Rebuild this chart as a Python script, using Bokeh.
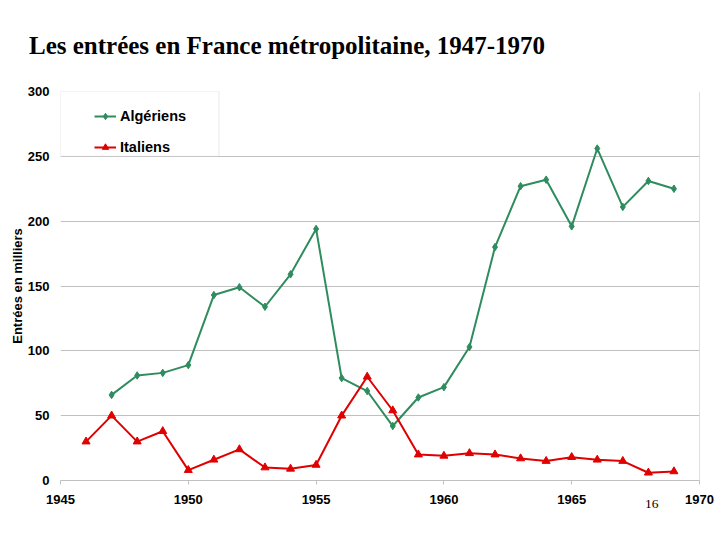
from bokeh.plotting import figure
from bokeh.models import (ColumnDataSource, Legend, LegendItem, Span, Title,
                          BoxAnnotation, FixedTicker)
from bokeh.embed import file_html
from bokeh.resources import INLINE

# ---- data (milliers d'entrées) ----
years_alg = [1947, 1948, 1949, 1950, 1951, 1952, 1953, 1954, 1955, 1956, 1957,
             1958, 1959, 1960, 1961, 1962, 1963, 1964, 1965, 1966, 1967, 1968, 1969]
algeriens = [66, 81, 83, 89, 143, 149, 134, 159, 194, 79, 69,
             42, 64, 72, 103, 180, 227, 232, 196, 256, 211, 231, 225]

years_ita = [1946, 1947, 1948, 1949, 1950, 1951, 1952, 1953, 1954, 1955, 1956,
             1957, 1958, 1959, 1960, 1961, 1962, 1963, 1964, 1965, 1966, 1967, 1968, 1969]
italiens = [30, 50, 30, 38, 8, 16, 24, 10, 9, 12, 50,
            80, 54, 20, 19, 21, 20, 17, 15, 18, 16, 15, 6, 7]

x_ticks = [1945, 1950, 1955, 1960, 1965, 1970]
y_ticks = [0, 50, 100, 150, 200, 250, 300]
y_grid = [50, 100, 150, 200, 250]

title_text = "Les entrées en France métropolitaine, 1947-1970"
y_label = "Entrées en milliers"
page_no = "16"

GREEN = "#2f8c5e"
RED = "#e00000"
GRID = "#c0c0c0"

p = figure(width=720, height=540, output_backend="svg", toolbar_location=None,
           x_range=(1945, 1970), y_range=(0, 300),
           min_border_left=60, min_border_right=21, min_border_top=91,
           min_border_bottom=60)
p.outline_line_color = None
p.background_fill_color = "white"

# title
p.title.text = title_text
p.title.text_font = "Liberation Serif"
p.title.text_font_style = "bold"
p.title.text_font_size = "25px"
p.title.text_color = "black"
p.title.align = "left"
p.title.vertical_align = "top"
p.title.offset = -31.5
p.title.standoff = 61

# axes
p.xaxis.ticker = FixedTicker(ticks=x_ticks)
p.yaxis.ticker = FixedTicker(ticks=y_ticks)
p.xaxis.minor_tick_line_color = None
p.yaxis.minor_tick_line_color = None
p.xaxis.axis_line_color = GRID
p.xaxis.major_tick_line_color = GRID
p.xaxis.major_tick_out = 4
p.xaxis.major_tick_in = 0
p.xaxis.minor_tick_out = 0
p.xaxis.minor_tick_in = 0
p.xaxis.major_label_standoff = 10
p.yaxis.axis_line_color = None
p.yaxis.major_tick_line_color = None
p.yaxis.major_tick_out = 0
p.yaxis.major_tick_in = 0
p.yaxis.minor_tick_out = 0
p.yaxis.minor_tick_in = 0
p.yaxis.major_label_standoff = 11
for ax in (p.xaxis, p.yaxis):
    ax.major_label_text_font = "Liberation Sans"
    ax.major_label_text_font_style = "bold"
    ax.major_label_text_font_size = "13px"
    ax.major_label_text_color = "black"
p.yaxis.axis_label = y_label
p.yaxis.axis_label_text_font = "Liberation Sans"
p.yaxis.axis_label_text_font_style = "bold"
p.yaxis.axis_label_text_font_size = "13px"
p.yaxis.axis_label_text_color = "black"
p.yaxis.axis_label_standoff = 0

p.xgrid.grid_line_color = None
p.ygrid.ticker = FixedTicker(ticks=y_grid)
p.ygrid.grid_line_color = GRID
p.ygrid.grid_line_width = 1

p.add_layout(Span(location=1970, dimension="height", line_color=GRID, line_width=1))

src_a = ColumnDataSource(dict(x=years_alg, y=algeriens))
src_i = ColumnDataSource(dict(x=years_ita, y=italiens))

la = p.line("x", "y", source=src_a, line_color=GREEN, line_width=2)
ma = p.scatter("x", "y", source=src_a, marker="diamond", size=7.5,
               fill_color=GREEN, line_color=GREEN)
li = p.line("x", "y", source=src_i, line_color=RED, line_width=2)
mi = p.scatter("x", "y", source=src_i, marker="triangle", size=8,
               fill_color=RED, line_color=RED)

# legend frame
p.add_layout(BoxAnnotation(left=1945, right=1951.2, bottom=250, top=300,
                           fill_color="white", fill_alpha=1,
                           line_color="#b0b0b0", line_width=1, level="overlay"))

legend = Legend(items=[LegendItem(label="Algériens", renderers=[la, ma]),
                       LegendItem(label="Italiens", renderers=[li, mi])],
                location=(34, 325), padding=0, spacing=15,
                glyph_width=22, glyph_height=16, label_height=16,
                label_standoff=4, border_line_color=None,
                background_fill_alpha=0,
                label_text_font="Liberation Sans", label_text_font_style="bold",
                label_text_font_size="14.5px", label_text_color="black")
p.add_layout(legend)

# page number
p.add_layout(Title(text=page_no, align="right", offset=41, standoff=-14,
                   vertical_align="top",
                   text_font="Liberation Serif", text_font_style="normal",
                   text_font_size="13.5px", text_color="black"), "below")

open("out.html", "w").write(file_html(p, INLINE))
